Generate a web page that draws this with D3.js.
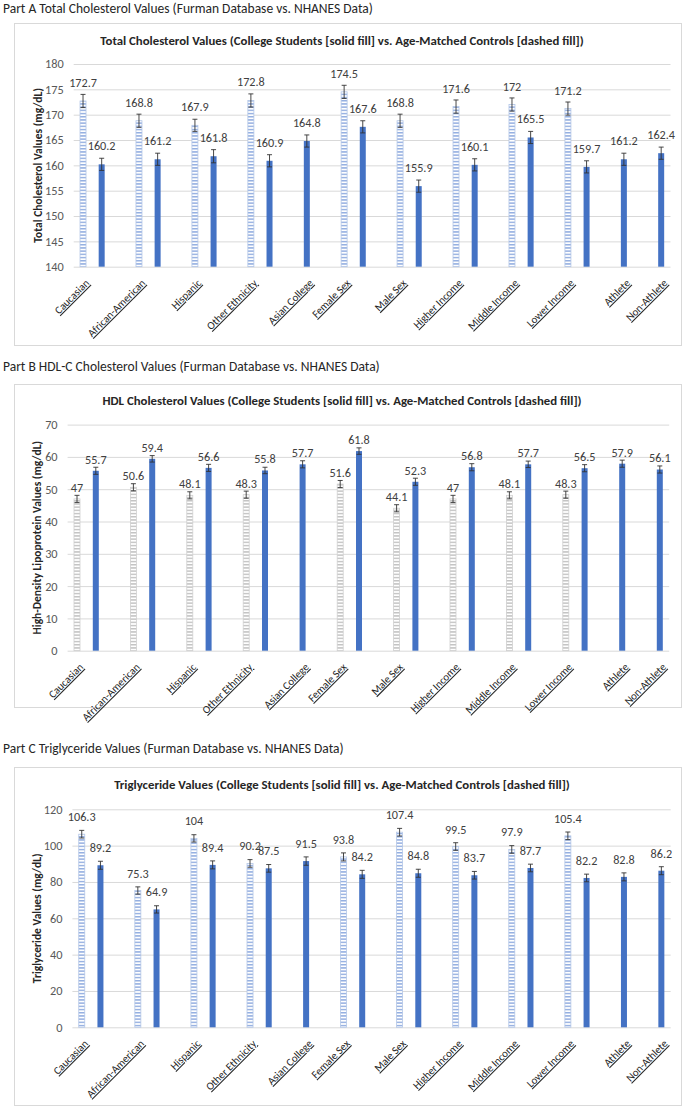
<!DOCTYPE html>
<html>
<head>
<meta charset="utf-8">
<script src="https://cdn.jsdelivr.net/npm/d3@7"></script>
<style>
  body { margin: 0; background: #fff; }
  text { font-family: Carlito, Lato, "Open Sans", sans-serif; }
</style>
</head>
<body>
<div id="chart"></div>
<script>
let width = 685,
    height = 1107;

// categories shared by all three panels
const categories = ["Caucasian", "African-American", "Hispanic", "Other Ethnicity", "Asian College",
  "Female Sex", "Male Sex", "Higher Income", "Middle Income", "Lower Income", "Athlete", "Non-Athlete"];

// Part A total cholesterol (null = no control bar)
const tcControl = [172.7, 168.8, 167.9, 172.8, null, 174.5, 168.8, 171.6, 172, 171.2, null, null];
const tcStudent = [160.2, 161.2, 161.8, 160.9, 164.8, 167.6, 155.9, 160.1, 165.5, 159.7, 161.2, 162.4];
const tcControlErr = [1.3, 1.3, 1.2, 1.3, null, 1.3, 1.3, 1.3, 1.3, 1.3, null, null];
const tcStudentErr = [1.2, 1.2, 1.3, 1.2, 1.2, 1.2, 1.2, 1.2, 1.2, 1.2, 1.2, 1.2];
const tcTicks = [140, 145, 150, 155, 160, 165, 170, 175, 180];

// Part B HDL cholesterol
const hdlControl = [47, 50.6, 48.1, 48.3, null, 51.6, 44.1, 47, 48.1, 48.3, null, null];
const hdlStudent = [55.7, 59.4, 56.6, 55.8, 57.7, 61.8, 52.3, 56.8, 57.7, 56.5, 57.9, 56.1];
const hdlControlErr = [1.1, 1.1, 1.1, 1.1, null, 1.1, 1.1, 1.1, 1.1, 1.1, null, null];
const hdlStudentErr = [1.1, 1.0, 1.1, 1.0, 1.1, 1.0, 1.1, 1.1, 1.0, 1.1, 1.1, 1.1];
const hdlTicks = [0, 10, 20, 30, 40, 50, 60, 70];

// Part C triglycerides
const tgControl = [106.3, 75.3, 104, 90.2, null, 93.8, 107.4, 99.5, 97.9, 105.4, null, null];
const tgStudent = [89.2, 64.9, 89.4, 87.5, 91.5, 84.2, 84.8, 83.7, 87.7, 82.2, 82.8, 86.2];
const tgControlErr = [2.1, 2.0, 2.0, 2.1, null, 2.2, 2.1, 2.1, 2.1, 2.1, null, null];
const tgStudentErr = [2.2, 2.0, 2.2, 2.1, 2.3, 2.2, 2.2, 2.1, 2.1, 2.1, 2.2, 2.2];
const tgTicks = [0, 20, 40, 60, 80, 100, 120];

const svg = d3.select("#chart")
  .append("svg")
  .attr("width", width)
  .attr("height", height);

const defs = svg.append("defs");
function stripes(id, line) { // horizontal dashed fill
  const p = defs.append("pattern")
    .attr("id", id)
    .attr("patternUnits", "userSpaceOnUse")
    .attr("width", 8).attr("height", 3.2);
  p.append("rect").attr("width", 8).attr("height", 3.2).attr("fill", "#fff");
  p.append("rect").attr("y", 1).attr("width", 8).attr("height", 1.1).attr("fill", line);
}
stripes("stripeBlue", "#6F93D6");
stripes("stripeGray", "#B0B0B0");

function drawChart(c) {
  const g = svg.append("g");

  g.append("text")
    .attr("x", 3).attr("y", c.headerY)
    .attr("font-size", "13.5px").attr("fill", "#262626")
    .text(c.header);

  g.append("rect")
    .attr("x", 14.5).attr("y", c.box[0] + 0.5)
    .attr("width", 667).attr("height", c.box[1] - c.box[0])
    .attr("fill", "#fff").attr("stroke", "#D9D9D9");

  g.append("text")
    .attr("x", 342).attr("y", c.titleY)
    .attr("text-anchor", "middle")
    .attr("font-size", "12.8px").attr("font-weight", "bold").attr("fill", "#262626")
    .text(c.title);

  // one slot per bar, a blank slot between categories
  let slots = [];
  categories.forEach((cat, i) => {
    if (c.control[i] != null) slots.push({ cat: i, type: "ctrl", value: c.control[i], err: c.controlErr[i] });
    slots.push({ cat: i, type: "stud", value: c.student[i], err: c.studentErr[i] });
    if (i < categories.length - 1) slots.push({ cat: i, type: "gap" });
  });

  let x = d3.scaleBand()
    .domain(d3.range(slots.length))
    .range(c.xRange);

  let y = d3.scaleLinear()
    .domain(d3.extent(c.ticks))
    .range(c.yRange);

  const yAxis = g.append("g")
    .attr("transform", `translate(${c.xRange[0]},0)`)
    .call(d3.axisLeft(y).tickValues(c.ticks).tickSize(-(c.xRange[1] - c.xRange[0])).tickPadding(10));
  yAxis.select(".domain").remove();
  yAxis.selectAll("line").attr("stroke", "#D9D9D9");
  yAxis.selectAll("text").attr("font-size", "12.3px").attr("fill", "#595959")
    .attr("font-family", "Carlito, Lato, sans-serif");

  const bars = slots.filter(d => d.type != "gap");
  const bw = 6;

  g.append("g")
    .selectAll("rect")
    .data(bars)
    .join("rect")
    .attr("x", (d, i) => x(slots.indexOf(d)) + x.bandwidth() / 2 - bw / 2)
    .attr("y", d => y(d.value))
    .attr("width", bw)
    .attr("height", d => y(c.ticks[0]) - y(d.value))
    .attr("fill", d => d.type == "stud" ? "#4472C4" : `url(#${c.pattern})`)
    .attr("stroke", d => d.type == "stud" ? "none" : c.patternEdge)
    .attr("stroke-width", 0.8);

  // error bars
  const eb = g.append("g").attr("stroke", "#333").attr("stroke-width", 0.9);
  bars.forEach(d => {
    const cx = x(slots.indexOf(d)) + x.bandwidth() / 2;
    eb.append("line").attr("x1", cx).attr("x2", cx).attr("y1", y(d.value - d.err)).attr("y2", y(d.value + d.err));
    eb.append("line").attr("x1", cx - 2.5).attr("x2", cx + 2.5).attr("y1", y(d.value - d.err)).attr("y2", y(d.value - d.err));
    eb.append("line").attr("x1", cx - 2.5).attr("x2", cx + 2.5).attr("y1", y(d.value + d.err)).attr("y2", y(d.value + d.err));
  });

  // value labels
  g.append("g")
    .selectAll("text")
    .data(bars)
    .join("text")
    .attr("x", d => x(slots.indexOf(d)) + x.bandwidth() / 2)
    .attr("y", d => y(d.value) - c.labelGap)
    .attr("text-anchor", "middle")
    .attr("font-size", "12.2px").attr("fill", "#404040")
    .text(d => d.value);

  // category labels on the first slot of each category
  const firsts = categories.map((cat, i) => slots.findIndex(s => s.cat == i));
  g.append("g")
    .selectAll("text")
    .data(categories)
    .join("text")
    .attr("transform", (d, i) => `translate(${x(firsts[i]) + x.bandwidth() / 2 + 7},${c.yRange[0] + 17}) rotate(-45)`)
    .attr("text-anchor", "end")
    .attr("font-size", "10.8px").attr("fill", "#262626")
    .attr("text-decoration", "underline")
    .text(d => d);

  g.append("text")
    .attr("transform", `translate(${c.yTitleX},${(c.yRange[0] + c.yRange[1]) / 2}) rotate(-90)`)
    .attr("text-anchor", "middle")
    .attr("font-size", "11.5px").attr("font-weight", "bold").attr("fill", "#262626")
    .text(c.yTitle);
}

drawChart({
  header: "Part A Total Cholesterol Values (Furman Database vs. NHANES Data)",
  title: "Total Cholesterol Values (College Students [solid fill] vs. Age-Matched Controls [dashed fill])",
  yTitle: "Total Cholesterol Values  (mg/dL)",
  control: tcControl, student: tcStudent, controlErr: tcControlErr, studentErr: tcStudentErr, ticks: tcTicks,
  headerY: 12.5, box: [23, 345], titleY: 45,
  xRange: [73.7, 670.5], yRange: [266.7, 64], yTitleX: 42,
  labelGap: 14, pattern: "stripeBlue", patternEdge: "#B4C7E7"
});

drawChart({
  header: "Part B HDL-C Cholesterol Values (Furman Database vs. NHANES Data)",
  title: "HDL Cholesterol Values (College Students [solid fill] vs. Age-Matched Controls [dashed fill])",
  yTitle: "High-Density Lipoprotein Values  (mg/dL)",
  control: hdlControl, student: hdlStudent, controlErr: hdlControlErr, studentErr: hdlStudentErr, ticks: hdlTicks,
  headerY: 371, box: [384, 707], titleY: 405,
  xRange: [67.6, 669.2], yRange: [650.7, 424.6], yTitleX: 41,
  labelGap: 7, pattern: "stripeGray", patternEdge: "#D0D0D0"
});

drawChart({
  header: "Part C Triglyceride Values (Furman Database vs. NHANES Data)",
  title: "Triglyceride Values (College Students [solid fill] vs. Age-Matched Controls [dashed fill])",
  yTitle: "Triglyceride Values (mg/dL)",
  control: tgControl, student: tgStudent, controlErr: tgControlErr, studentErr: tgStudentErr, ticks: tgTicks,
  headerY: 753, box: [767, 1105], titleY: 789,
  xRange: [72.4, 670.7], yRange: [1027.3, 809.3], yTitleX: 41,
  labelGap: 13, pattern: "stripeBlue", patternEdge: "#B4C7E7"
});
</script>
</body>
</html>
